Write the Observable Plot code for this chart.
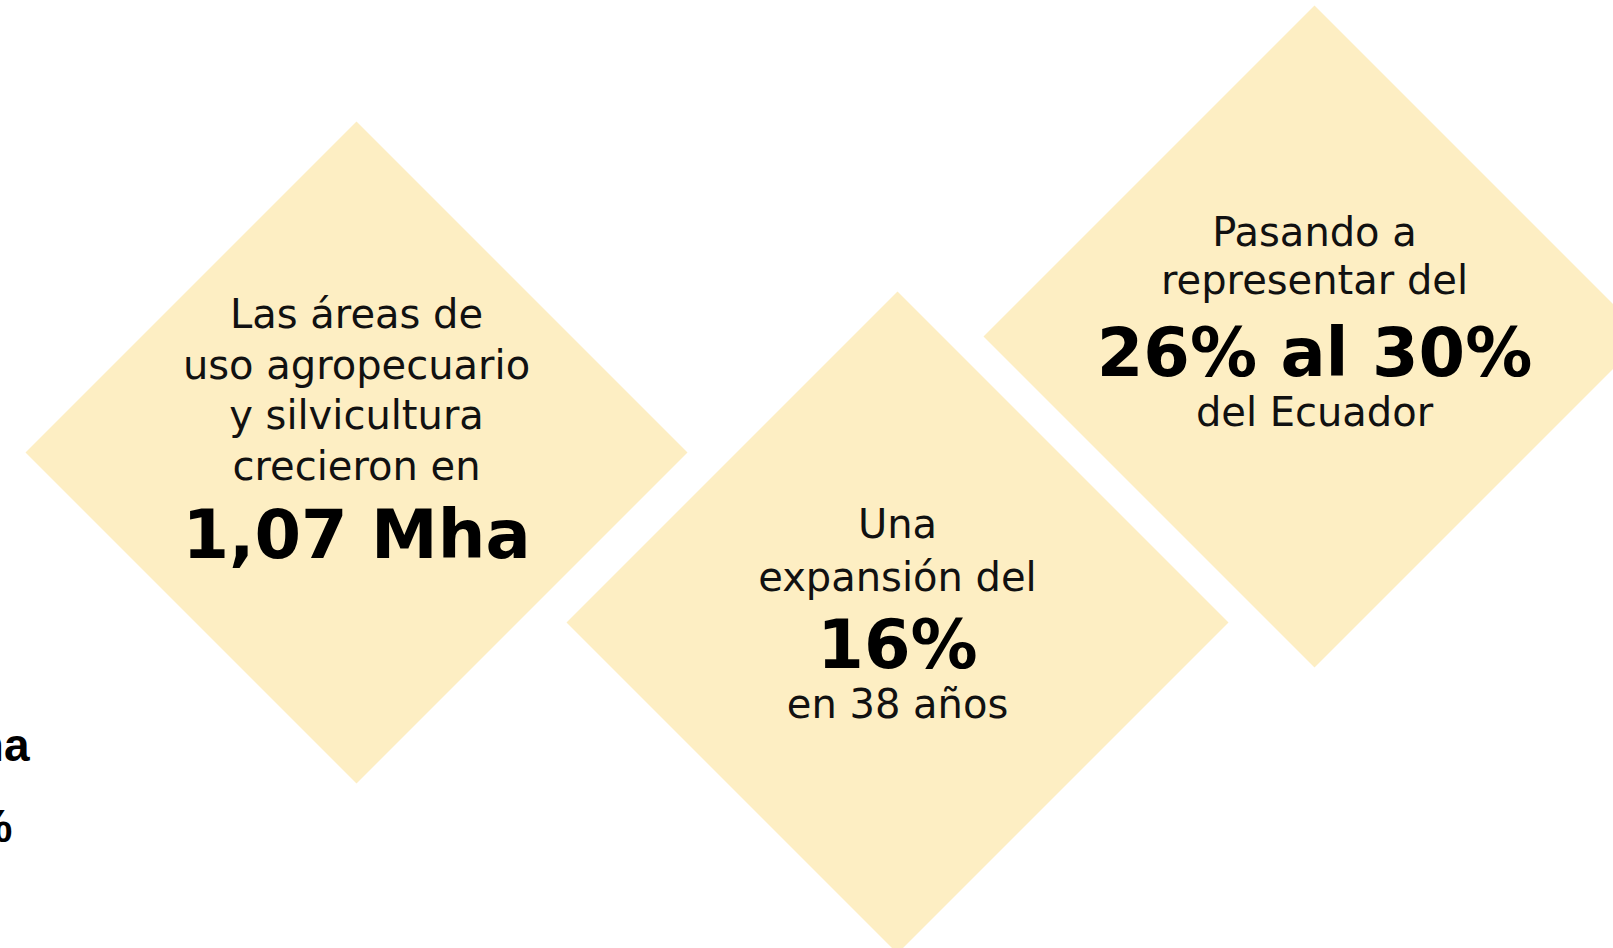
<!DOCTYPE html>
<html>
<head>
<meta charset="utf-8">
<script src="https://cdn.jsdelivr.net/npm/d3@7"></script>
<script src="https://cdn.jsdelivr.net/npm/@observablehq/plot@0.6"></script>
<style>
  html, body { margin: 0; padding: 0; background: #ffffff; overflow: hidden; }
  #chart svg { display: block; }
</style>
</head>
<body>
<div id="chart"></div>
<script>
// ---- content ----
const boxes = ["agro", "expansion", "share"];

const lineBox    = ["agro", "agro", "agro", "agro", "agro",
                    "expansion", "expansion", "expansion", "expansion",
                    "share", "share", "share", "share"];
const lineText   = ["Las áreas de", "uso agropecuario", "y silvicultura", "crecieron en", "1,07 Mha",
                    "Una", "expansión del", "16%", "en 38 años",
                    "Pasando a", "representar del", "26% al 30%", "del Ecuador"];
const lineStrong = [false, false, false, false, true,
                    false, false, true, false,
                    false, false, true, false];

// clipped leftover text at the left page edge
const ghostText = ["1,07 Mha", "16%"];

// ---- layout (page coordinates) ----
const W = 1613, H = 948;
const layout = {
  agro:      {cx: 356,  cy: 452, r: 331, offsets: [-125, -74, -24, 27, 105]},
  expansion: {cx: 897,  cy: 622, r: 331, offsets: [-85, -32, 45, 95]},
  share:     {cx: 1314, cy: 336, r: 331, offsets: [-91, -43, 39, 89]}
};
const ghostLayout = [{x: 29, y: 760}, {x: 12, y: 841}];

// diamond vertices
const diamonds = boxes.flatMap(b => {
  const {cx, cy, r} = layout[b];
  return [[0, -1], [1, 0], [0, 1], [-1, 0], [0, -1]].map(([dx, dy]) => ({box: b, x: cx + dx * r, y: cy + dy * r}));
});

// text lines
const counters = {};
const lines = lineText.map((t, i) => {
  const b = lineBox[i];
  counters[b] = (counters[b] ?? -1) + 1;
  const L = layout[b];
  return {text: t, strong: lineStrong[i], x: L.cx, y: L.cy + L.offsets[counters[b]]};
});
const normalLines = lines.filter(d => !d.strong);
const strongLines = lines.filter(d => d.strong);
const ghosts = ghostText.map((t, i) => ({text: t, ...ghostLayout[i]}));

const chart = Plot.plot({
  width: W,
  height: H,
  margin: 0,
  x: {domain: [0, W], range: [0, W], axis: null},
  y: {domain: [0, H], range: [0, H], axis: null},
  style: {background: "#ffffff"},
  marks: [
    Plot.line(diamonds, {x: "x", y: "y", z: "box", fill: "#fdeec3", stroke: null, curve: "linear"}),
    Plot.text(normalLines, {
      x: "x", y: "y", text: "text", lineAnchor: "bottom", textAnchor: "middle",
      fill: "#111111", fontSize: 40, fontFamily: "DejaVu Sans, sans-serif", fontWeight: 400
    }),
    Plot.text(strongLines, {
      x: "x", y: "y", text: "text", lineAnchor: "bottom", textAnchor: "middle",
      fill: "#000000", fontSize: 67, fontFamily: "DejaVu Sans, sans-serif", fontWeight: 700
    }),
    Plot.text(ghosts, {
      x: "x", y: "y", text: "text", lineAnchor: "bottom", textAnchor: "end",
      fill: "#000000", fontSize: 46, fontFamily: "Liberation Sans, Arial, sans-serif", fontWeight: 700
    })
  ]
});
document.getElementById("chart").appendChild(chart);
</script>
</body>
</html>
